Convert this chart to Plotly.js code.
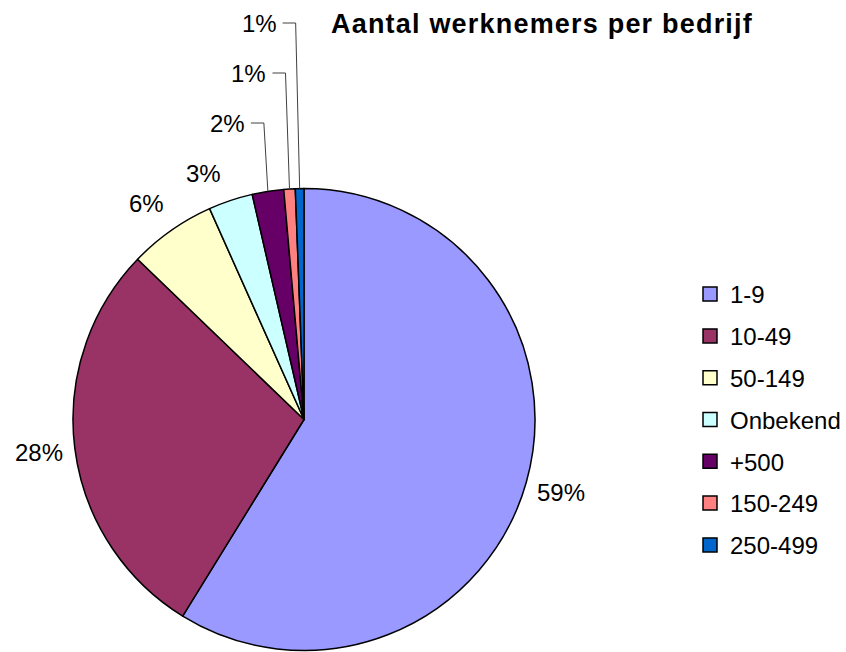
<!DOCTYPE html>
<html>
<head>
<meta charset="utf-8">
<script src="https://cdn.plot.ly/plotly-3.0.1.min.js"></script>
<style>
  html, body { margin: 0; padding: 0; background: #fff; overflow: hidden; }
  #chart { width: 846px; height: 652px; }
  #chart .gtitle { letter-spacing: 1.2px; }
</style>
</head>
<body>
<div id="chart"></div>
<script>
// Aantal werknemers per bedrijf — pie with Excel-style outside labels and leader lines.
const categories = ["1-9", "10-49", "50-149", "Onbekend", "+500", "150-249", "250-499"];
const shares = [58.8, 28.4, 6.1, 3.1, 2.2, 0.8, 0.6];
const colors = ["#9999FF", "#993366", "#FFFFCC", "#CCFFFF", "#660066", "#FF8080", "#0066CC"];

const W = 846, H = 652;
const MR = 156;            // right margin kept for the legend
const PW = W - MR;         // plot area width
const FONT = "Liberation Sans, Arial, Helvetica, sans-serif";
// pie placement (px, from top-left)
const CX = 304, CY = 419.5, R = 231;
// Excel nudged a couple of labels away from their neighbours (px)
const LABEL_NUDGE = { "50-149": [-4, 2], "Onbekend": [-16, 7] };
const px = x => x / PW;
const py = y => 1 - y / H;

const total = shares.reduce((a, b) => a + b, 0);
const pctText = shares.map(v => Math.round(v / total * 100) + "%");

// Labels: big slices get a label just outside the rim, tiny ones get stacked leader labels
const annotations = [];
const shapes = [];
const leader = [];
let cum = 0;
shares.forEach((v, i) => {
  const mid = (cum + v / 2) / total * 2 * Math.PI;
  cum += v;
  const ex = CX + R * Math.sin(mid), ey = CY - R * Math.cos(mid);
  if (v / total < 0.025) { leader.push({ i, ex, ey }); return; }
  const d = R + 36;
  const [nx, ny] = LABEL_NUDGE[categories[i]] || [0, 0];
  annotations.push({
    x: px(CX + d * Math.sin(mid) + nx), y: py(CY - d * Math.cos(mid) + ny),
    xref: "paper", yref: "paper", xanchor: "center", yanchor: "middle",
    text: pctText[i], showarrow: false,
  });
});
leader.forEach((p, k) => {
  const ly = 23 + 50 * (leader.length - 1 - k);
  const bx = p.ex - 4;
  shapes.push({
    type: "path", xref: "paper", yref: "paper",
    path: `M ${px(bx - 13)} ${py(ly)} L ${px(bx)} ${py(ly)} L ${px(p.ex)} ${py(p.ey)}`,
    line: { color: "#404040", width: 1 },
  });
  annotations.push({
    x: px(bx - 17), y: py(ly), xref: "paper", yref: "paper",
    xanchor: "right", yanchor: "middle",
    text: pctText[p.i], showarrow: false,
  });
});

const pie = {
  type: "pie", labels: categories, values: shares,
  sort: false, direction: "clockwise", rotation: 0,
  marker: { colors: colors, line: { color: "#000", width: 1.5 } },
  textinfo: "none", hoverinfo: "label+percent", showlegend: false,
  domain: { x: [px(CX - R), px(CX + R)], y: [py(CY + R), py(CY - R)] },
};

// legend entries (one per category, so the gap between them can be set)
const legendTraces = categories.map((c, i) => ({
  type: "scatter", mode: "markers", x: [null], y: [null],
  name: c, legendgroup: c, hoverinfo: "skip",
  marker: { symbol: "square", size: 14, color: colors[i], line: { color: "#000", width: 1.5 } },
}));

Plotly.newPlot("chart", [pie, ...legendTraces], {
  width: W, height: H,
  margin: { l: 0, r: MR, t: 0, b: 0 },
  paper_bgcolor: "#fff", plot_bgcolor: "#fff",
  font: { family: FONT, size: 24, color: "#000" },
  title: {
    text: "<b>Aantal werknemers per bedrijf</b>",
    font: { family: FONT, size: 27, color: "#000" },
    xref: "container", yref: "container",
    x: 331 / W, xanchor: "left", y: py(24), yanchor: "middle",
  },
  xaxis: { visible: false }, yaxis: { visible: false },
  showlegend: true,
  legend: {
    xref: "container", yref: "container",
    x: 690 / W, xanchor: "left", y: py(272), yanchor: "top",
    font: { family: FONT, size: 24, color: "#000" },
    tracegroupgap: 7.6, bgcolor: "rgba(0,0,0,0)", itemwidth: 30,
  },
  annotations: annotations,
  shapes: shapes,
  hovermode: false,
}, { displayModeBar: false });
</script>
</body>
</html>
